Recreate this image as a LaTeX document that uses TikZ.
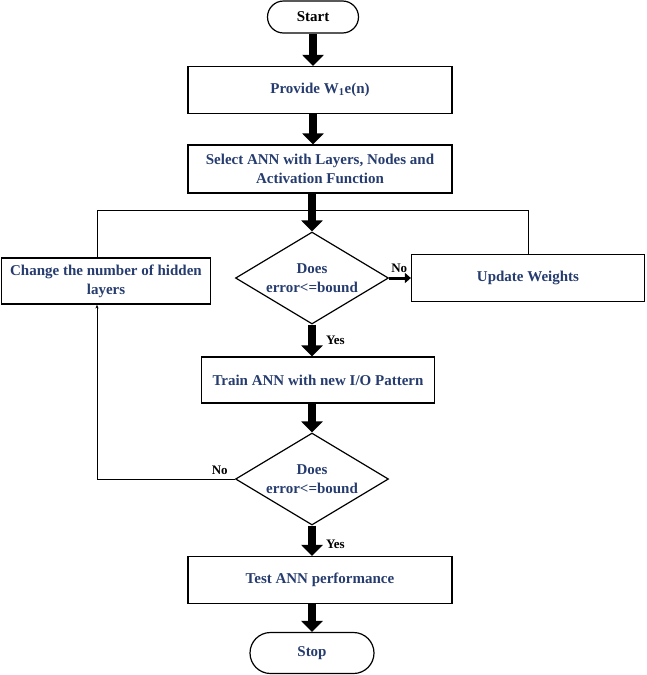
\documentclass[tikz,border=0pt]{standalone}
\usepackage{fontspec}
\setmainfont{Liberation Serif}
\usetikzlibrary{shapes.geometric,shapes.misc,arrows.meta,positioning}
\definecolor{ANNblue}{RGB}{38,60,110}

\begin{document}
\begin{tikzpicture}[x=1pt,y=-1pt,
	every node/.style={font=\fontsize{15}{19}\selectfont\bfseries},
	procbox/.style={draw, line width=1.2pt, rectangle, align=center, text=ANNblue, inner sep=0},
	termnode/.style={draw, line width=1.2pt, rounded rectangle, inner sep=0},
	decision/.style={draw, line width=1.2pt, diamond, aspect=1.65, inner sep=0, minimum width=153pt, minimum height=92pt, align=center, text=ANNblue},
	bigarrow/.style={line width=8pt, -{Triangle[length=11pt,width=21pt]}},
	midarrow/.style={line width=3pt, -{Triangle[length=6pt,width=10pt]}},
	loopline/.style={line width=0.8pt},
	lbl/.style={font=\fontsize{13}{15}\selectfont\bfseries, inner sep=1pt}
	]
	\useasboundingbox (0,0) rectangle (647,675);
	
	\node (start) [termnode, minimum width=91pt, minimum height=32pt] at (313,17) {Start};
	\node (provide) [procbox, minimum width=264pt, minimum height=47pt] at (320,90) {Provide W\textsubscript{1}e(n)};
	\node (select) [procbox, minimum width=264pt, minimum height=48pt] at (320,169) {Select ANN with Layers, Nodes and\\Activation Function};
	\node (dec1) [decision] at (312,278) {Does\\error<=bound};
	\node (change) [procbox, minimum width=209pt, minimum height=46pt] at (106,281) {Change the number of hidden\\layers};
	\node (update) [procbox, minimum width=233pt, minimum height=47pt] at (528,278) {Update Weights};
	\node (train) [procbox, minimum width=233pt, minimum height=46pt] at (318,380) {Train ANN with new I/O Pattern};
	\node (dec2) [decision] at (312,479) {Does\\error<=bound};
	\node (test) [procbox, minimum width=264pt, minimum height=47pt] at (320,580) {Test ANN performance};
	\node (stop) [termnode, text=ANNblue, minimum width=124pt, minimum height=41pt] at (312,653) {Stop};
	\coordinate (join) at (313,210);
	\coordinate (loopL) at (97,210);
	
	% main flow
	\draw [bigarrow] (start.south) -- (start.south |- provide.north);
	\draw [bigarrow] (start.south |- provide.south) -- (start.south |- select.north);
	\draw [bigarrow] (dec1.north |- select.south) -- (dec1.north);
	\draw [bigarrow] (dec1.south) -- (dec1.south |- train.north) node (yes1) [lbl, midway, right=9pt] {Yes};
	\draw [bigarrow] (dec2.north |- train.south) -- (dec2.north);
	\draw [bigarrow] (dec2.south) -- (dec2.south |- test.north) node (yes2) [lbl, midway, right=9pt, yshift=-4pt] {Yes};
	\draw [bigarrow] (stop.north |- test.south) -- (stop.north);
	
	% branches
	\draw [midarrow] (dec1.east) -- (update.west);
	\node (no1) [lbl, above right=4pt and 1pt of dec1.east] {No};
	\draw [loopline] (change.north -| loopL) -- (loopL) -- (join);
	\draw [loopline] (update.north) |- (join);
	\draw [loopline, -{Stealth[length=4pt,width=3pt]}] (dec2.west) -| (change.south -| loopL);
	\node (no2) [lbl, above left=3pt and 6pt of dec2.west] {No};
\end{tikzpicture}
\end{document}
